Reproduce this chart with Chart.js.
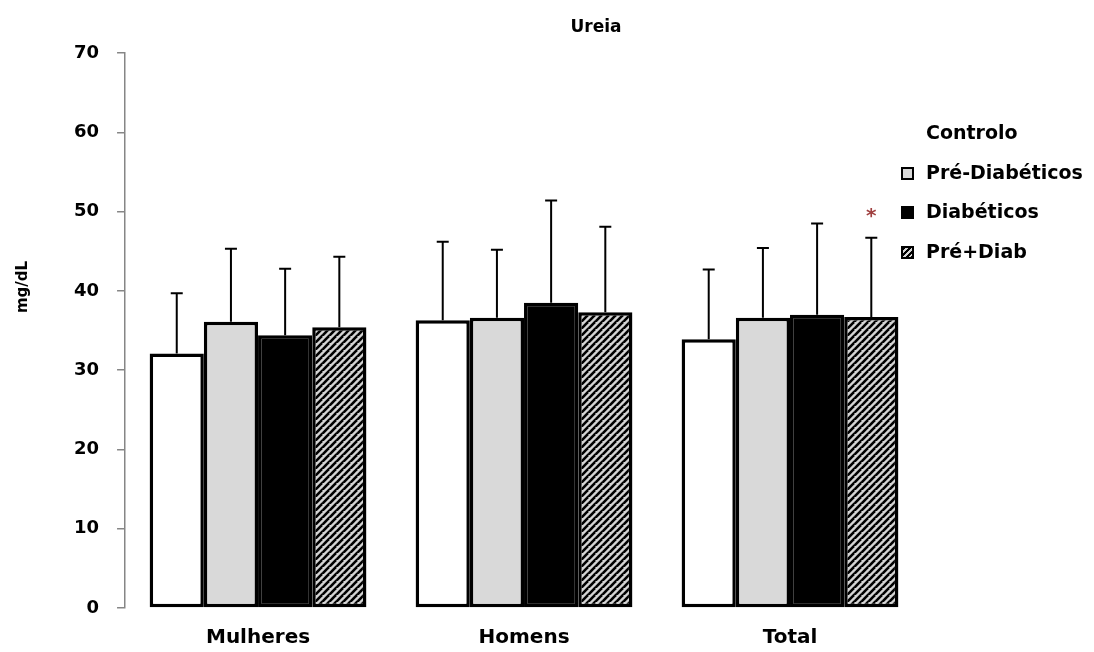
<!DOCTYPE html>
<html>
<head>
<meta charset="utf-8">
<script src="https://cdn.jsdelivr.net/npm/chart.js@4"></script>
<style>
  html, body { margin: 0; padding: 0; background: #fff; }
  #wrap { position: relative; width: 1094px; height: 652px; }
  #legend { position: absolute; left: 901px; top: 119px; font: bold 19px "DejaVu Sans", sans-serif; color: #000; }
  #legend div { height: 39.5px; line-height: 26px; white-space: nowrap; }
  #legend span.box { display: inline-block; width: 9px; height: 9px; border: 2px solid #000; margin-right: 12px; vertical-align: -1px; }
</style>
</head>
<body>
<div id="wrap">
  <canvas id="ureiaChart" width="1094" height="652"></canvas>
  <div id="legend"></div>
</div>
<script>
// ─── DATA ───
const groups = ['Mulheres', 'Homens', 'Total'];
const seriesNames = ['Controlo', 'Pré-Diabéticos', 'Diabéticos', 'Pré+Diab'];
const controloMean = [32.1, 36.3, 33.9];
const controloSD = [7.6, 9.9, 8.8];
const preDiabMean = [36.1, 36.6, 36.6];
const preDiabSD = [9.2, 8.6, 8.8];
const diabMean = [34.4, 38.5, 37.0];
const diabSD = [8.4, 12.9, 11.5];
const preMaisDiabMean = [35.4, 37.3, 36.7];
const preMaisDiabSD = [8.9, 10.8, 10.0];
const yTicks = [0, 10, 20, 30, 40, 50, 60, 70];

const FONT = '"DejaVu Sans", sans-serif';

// ─── HATCH PATTERN ───
function makeHatch() {
    const c = document.createElement('canvas');
    c.width = 7; c.height = 7;
    const g = c.getContext('2d');
    g.fillStyle = '#d4d4d4';
    g.fillRect(0, 0, 7, 7);
    g.strokeStyle = '#000';
    g.lineWidth = 2.6;
    for (let k = -7; k <= 14; k += 7) {
        g.beginPath();
        g.moveTo(k - 7, 14);
        g.lineTo(k + 7, 0);
        g.stroke();
    }
    return document.getElementById('ureiaChart').getContext('2d').createPattern(c, 'repeat');
}
const hatch = makeHatch();

// ─── ERROR BARS + TITLES ───
const errorBars = {
    id: 'errorBars',
    afterDatasetsDraw(chart) {
        const ctx = chart.ctx;
        const y = chart.scales.y;
        ctx.save();
        ctx.strokeStyle = '#000';
        ctx.lineWidth = 2;
        chart.data.datasets.forEach((ds, i) => {
            chart.getDatasetMeta(i).data.forEach((bar, j) => {
                const top = y.getPixelForValue(ds.data[j] + ds.sd[j]);
                ctx.beginPath();
                ctx.moveTo(bar.x, bar.y);
                ctx.lineTo(bar.x, top);
                ctx.moveTo(bar.x - 6, top);
                ctx.lineTo(bar.x + 6, top);
                ctx.stroke();
                if (ds.star && ds.star[j]) {
                    ctx.fillStyle = '#a04040';
                    ctx.font = 'bold 20px ' + FONT;
                    ctx.textAlign = 'center';
                    ctx.textBaseline = 'middle';
                    ctx.fillText('*', bar.x, top - 21);
                }
            });
        });
        ctx.restore();
    },
    afterDraw(chart) {
        const ctx = chart.ctx;
        ctx.save();
        ctx.fillStyle = '#000';
        ctx.textAlign = 'center';
        ctx.textBaseline = 'middle';
        ctx.font = 'bold 17px ' + FONT;
        ctx.fillText('Ureia', 596, 28);
        ctx.translate(23, 287);
        ctx.rotate(-Math.PI / 2);
        ctx.font = 'bold 15px ' + FONT;
        ctx.fillText('mg/dL', 0, 0);
        ctx.restore();
    }
};

// ─── CHART ───
const ctx = document.getElementById('ureiaChart').getContext('2d');
const ureiaChart = new Chart(ctx, {
    type: 'bar',
    data: {
        labels: groups,
        datasets: [
            { label: seriesNames[0], data: controloMean, sd: controloSD, backgroundColor: '#ffffff' },
            { label: seriesNames[1], data: preDiabMean, sd: preDiabSD, backgroundColor: '#d9d9d9' },
            { label: seriesNames[2], data: diabMean, sd: diabSD, backgroundColor: '#000000' },
            { label: seriesNames[3], data: preMaisDiabMean, sd: preMaisDiabSD, star: [false, false, true], backgroundColor: hatch }
        ]
    },
    options: {
        responsive: false,
        animation: false,
        layout: { padding: { left: 56, right: 171, top: 53, bottom: -16 } },
        datasets: {
            bar: {
                borderColor: '#000',
                borderWidth: 3.5,
                borderSkipped: false,
                categoryPercentage: 0.815,
                barPercentage: 1
            }
        },
        scales: {
            x: {
                grid: { display: false, drawTicks: false },
                border: { display: false },
                ticks: { color: '#000', padding: 18, font: { family: FONT, size: 20, weight: 'bold' } }
            },
            y: {
                min: 0,
                max: 70,
                afterBuildTicks: (s) => { s.ticks = yTicks.map(v => ({ value: v })); },
                grid: { drawOnChartArea: false, tickLength: 8, color: '#868686', lineWidth: 1.5 },
                border: { color: '#868686', width: 1.5 },
                ticks: { color: '#000', padding: 18, font: { family: FONT, size: 18, weight: 'bold' } }
            }
        },
        plugins: {
            legend: { display: false },
            tooltip: { enabled: false }
        }
    },
    plugins: [errorBars]
});

// ─── LEGEND ───
const legendEl = document.getElementById('legend');
const swatches = [
    'visibility:hidden',
    'background:#d9d9d9',
    'background:#000',
    'background:repeating-linear-gradient(135deg,#000 0 2px,#d4d4d4 2px 4px)'
];
seriesNames.forEach((name, i) => {
    const row = document.createElement('div');
    row.innerHTML = '<span class="box" style="' + swatches[i] + '"></span>' + name;
    legendEl.appendChild(row);
});
</script>
</body>
</html>
